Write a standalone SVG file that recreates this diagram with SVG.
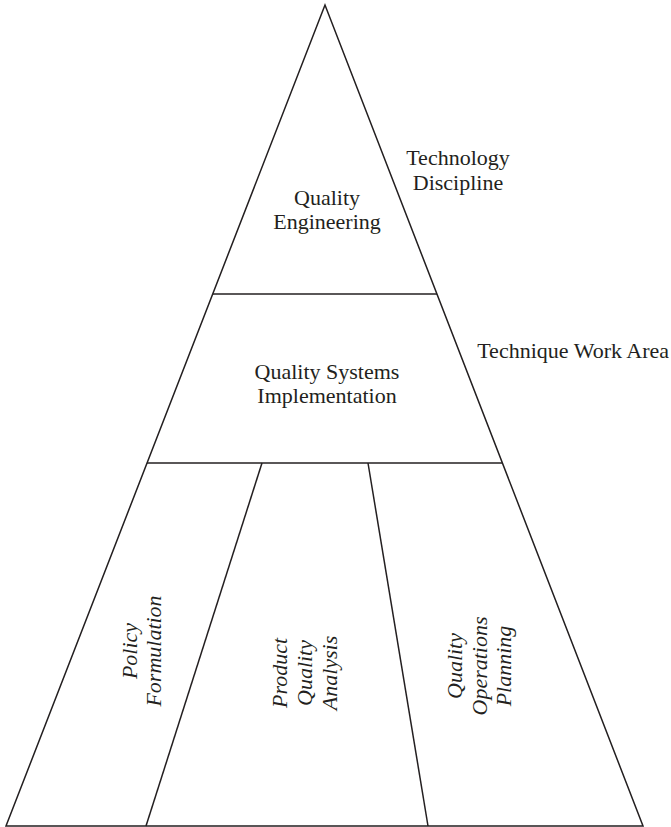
<svg xmlns="http://www.w3.org/2000/svg" width="671" height="827" viewBox="0 0 671 827">
<style>
.ln{stroke:#231f20;stroke-width:1.5;fill:none}
.t{font-family:"Liberation Serif","Times New Roman",serif;font-size:22px;fill:#231f20}
.c{text-anchor:middle}
.i{font-style:italic;text-anchor:middle}
</style>
<rect width="671" height="827" fill="#fff"/>
<g id="connectors">
<path class="ln" d="M325,5 L6,826 L643,826 Z"/>
<line class="ln" x1="213" y1="294" x2="437" y2="294"/>
<line class="ln" x1="147" y1="463" x2="502" y2="463"/>
<line class="ln" x1="262" y1="463" x2="146" y2="826"/>
<line class="ln" x1="368" y1="463" x2="428" y2="826"/>
</g>
<g id="quality-engineering">
<text class="t c" x="327" y="205">Quality</text>
<text class="t c" x="327" y="229">Engineering</text>
</g>
<g id="technology-discipline">
<text class="t c" x="458" y="165">Technology</text>
<text class="t c" x="458" y="190">Discipline</text>
</g>
<g id="quality-systems-implementation">
<text class="t c" x="327" y="379">Quality Systems</text>
<text class="t c" x="327" y="403">Implementation</text>
</g>
<g id="technique-work-area">
<text class="t" x="669" y="358" text-anchor="end">Technique Work Area</text>
</g>
<g id="policy-formulation">
<text class="t i" transform="translate(137,651) rotate(-90)">Policy</text>
<text class="t i" transform="translate(161,651) rotate(-90)">Formulation</text>
</g>
<g id="product-quality-analysis">
<text class="t i" transform="translate(287,673) rotate(-90)">Product</text>
<text class="t i" transform="translate(312,673) rotate(-90)">Quality</text>
<text class="t i" transform="translate(337,673) rotate(-90)">Analysis</text>
</g>
<g id="quality-operations-planning">
<text class="t i" transform="translate(462,666) rotate(-90)">Quality</text>
<text class="t i" transform="translate(487,666) rotate(-90)">Operations</text>
<text class="t i" transform="translate(511,666) rotate(-90)">Planning</text>
</g>
</svg>
